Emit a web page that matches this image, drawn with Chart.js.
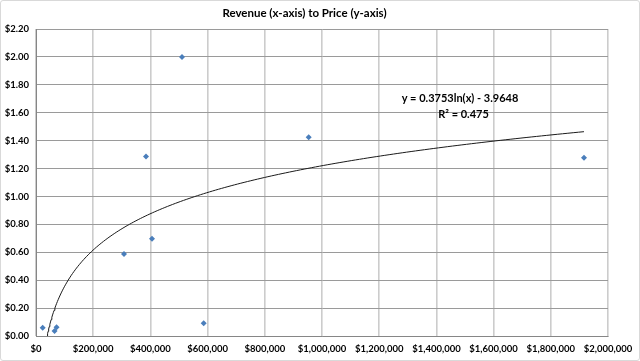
<!DOCTYPE html>
<html>
<head>
<meta charset="utf-8">
<script src="https://cdn.jsdelivr.net/npm/chart.js@4"></script>
<style>
    html, body { margin: 0; padding: 0; background: #fff; }
    .marco { width: 638px; height: 359px; border: 1px solid #d9d9d9; border-radius: 3px; }
</style>
</head>
<body>
<div class="marco"><canvas id="grafico" width="638" height="359"></canvas></div>
<script>
// ==================== DATOS ====================

const ingresos = [23400, 65000, 72000, 307700, 384600, 405600, 510500, 586400, 953500, 1916000];
const precios  = [0.060, 0.036, 0.062, 0.587, 1.287, 0.697, 2.000, 0.091, 1.425, 1.277];

const ticksX = [0, 200000, 400000, 600000, 800000, 1000000, 1200000, 1400000, 1600000, 1800000, 2000000];
const ticksY = [0, 0.2, 0.4, 0.6, 0.8, 1.0, 1.2, 1.4, 1.6, 1.8, 2.0, 2.2];

// Línea de tendencia logarítmica (coeficientes tal como aparecen en el gráfico)
const coefA = 0.3753;
const coefB = -3.9648;
const r2 = 0.475;

const titulo = 'Revenue (x-axis) to Price (y-axis)';
const fuente = 'Lato, "Liberation Sans", sans-serif';

// Curva de tendencia entre el mínimo y el máximo de ingresos
function curvaTendencia() {
    const xMin = Math.min(...ingresos);
    const xMax = Math.max(...ingresos);
    const puntos = [];
    const n = 200;
    for (let i = 0; i <= n; i++) {
        const x = xMin + (xMax - xMin) * Math.pow(i / n, 2);
        puntos.push({ x: x, y: coefA * Math.log(x) + coefB });
    }
    return puntos;
}

// Etiqueta con la ecuación
const etiquetaEcuacion = {
    id: 'etiquetaEcuacion',
    afterDatasetsDraw(chart) {
        const ctx = chart.ctx;
        const sx = chart.scales.x;
        const sy = chart.scales.y;
        ctx.save();
        ctx.font = 'bold 11px ' + fuente;
        ctx.fillStyle = '#000';
        ctx.textAlign = 'center';
        ctx.textBaseline = 'middle';
        const signo = coefB < 0 ? ' - ' : ' + ';
        ctx.fillText('y = ' + coefA.toFixed(4) + 'ln(x)' + signo + Math.abs(coefB).toFixed(4),
            sx.getPixelForValue(1482500), sy.getPixelForValue(1.70));
        ctx.fillText('R² = ' + r2, sx.getPixelForValue(1495000), sy.getPixelForValue(1.585));
        ctx.restore();
    }
};

const ctx = document.getElementById('grafico');

new Chart(ctx, {
    type: 'scatter',
    data: {
        datasets: [{
            data: ingresos.map((x, i) => ({ x: x, y: precios[i] })),
            pointStyle: 'rectRot',
            pointRadius: 3,
            backgroundColor: '#4A7EBB',
            borderWidth: 0
        }, {
            data: curvaTendencia(),
            showLine: true,
            pointRadius: 0,
            borderColor: '#1a1a1a',
            borderWidth: 1,
            tension: 0
        }]
    },
    plugins: [etiquetaEcuacion],
    options: {
        responsive: false,
        animation: false,
        devicePixelRatio: 1,
        layout: { padding: { top: 0, left: 0, right: 31, bottom: 0 } },
        plugins: {
            legend: { display: false },
            tooltip: { enabled: false },
            title: {
                display: true,
                text: titulo,
                color: '#000',
                font: { family: fuente, size: 11.5, weight: 'bold' },
                padding: { top: 5, bottom: 9.2 }
            }
        },
        scales: {
            x: {
                type: 'linear',
                min: 0,
                max: 2000000,
                afterBuildTicks: s => { s.ticks = ticksX.map(v => ({ value: v })); },
                afterFit: s => { s.height = 24; s.paddingLeft = 0; s.paddingRight = 0; },
                grid: { color: '#cccccc', lineWidth: 1.6, drawTicks: false },
                border: { color: '#868686' },
                ticks: {
                    padding: 7,
                    color: '#000',
                    font: { family: fuente, size: 9.5, weight: 'bold' },
                    maxRotation: 0,
                    callback: v => '$' + v.toLocaleString('en-US')
                }
            },
            y: {
                min: 0,
                max: 2.2,
                afterBuildTicks: s => { s.ticks = ticksY.map(v => ({ value: v })); },
                afterFit: s => { s.width = 35; s.paddingTop = 0; s.paddingBottom = 0; },
                grid: { color: '#9a9a9a', drawTicks: false },
                border: { color: '#868686' },
                ticks: {
                    padding: 7,
                    color: '#000',
                    font: { family: fuente, size: 9.5, weight: 'bold' },
                    callback: v => '$' + v.toFixed(2)
                }
            }
        }
    }
});
</script>
</body>
</html>
